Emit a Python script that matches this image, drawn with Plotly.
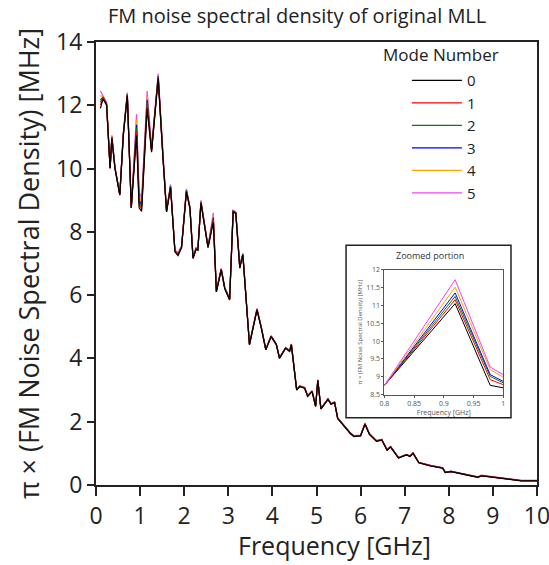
import plotly.graph_objects as go

# ---------------- data ----------------
freq_ghz = [0.10, 0.16, 0.24, 0.32, 0.36, 0.43, 0.54, 0.62, 0.71, 0.80,
            0.919, 0.978, 1.035, 1.16, 1.26, 1.41, 1.52, 1.60, 1.69, 1.79,
            1.86, 1.94, 2.05, 2.13, 2.20, 2.27, 2.31, 2.38, 2.54, 2.66,
            2.73, 2.84, 2.92, 3.03, 3.11, 3.17, 3.26, 3.33, 3.48, 3.65,
            3.75, 3.85, 3.97, 4.09, 4.16, 4.30, 4.39, 4.43, 4.55, 4.62,
            4.73, 4.80, 4.90, 4.98, 5.03, 5.10, 5.18, 5.26, 5.33, 5.41,
            5.48, 5.57, 5.67, 5.77, 5.85, 6.00, 6.10, 6.20, 6.36, 6.48,
            6.60, 6.68, 6.86, 6.96, 7.04, 7.12, 7.19, 7.32, 7.59, 7.86,
            7.92, 8.05, 8.36, 8.66, 8.74, 9.04, 9.34, 9.49, 9.64, 10.0]

mode0_mhz = [11.9, 12.2, 12.0, 10.0, 10.95, 10.0, 9.16, 11.05, 12.3, 8.76,
             11.05, 8.76, 8.65, 11.9, 10.52, 12.85, 10.3, 8.63, 9.4, 7.37,
             7.25, 7.5, 9.26, 8.74, 7.16, 7.45, 7.42, 8.9, 7.5, 8.3,
             6.1, 6.8, 6.2, 5.85, 8.63, 8.58, 6.85, 7.27, 4.43, 5.53,
             4.95, 4.27, 4.69, 4.43, 4.0, 4.32, 4.22, 4.43, 3.0, 3.11,
             3.06, 2.8, 2.95, 2.48, 3.3, 2.4, 2.55, 2.7, 2.55, 2.6,
             2.1, 1.95, 1.8, 1.62, 1.53, 1.55, 1.92, 1.6, 1.38, 1.42,
             1.1, 1.2, 0.85, 0.9, 0.95, 0.9, 1.0, 0.70, 0.6, 0.53,
             0.39, 0.42, 0.34, 0.24, 0.29, 0.23, 0.18, 0.16, 0.13, 0.13]

# gap between the highest (mode 5) and the lowest (mode 0) curve at each point
mode_spread = [0.55, 0.1, 0.1, 0.05, 0.1, 0.05, 0.05, 0.1, 0.1, 0.0,
               0.67, 0.51, 0.4, 0.55, 0.15, 0.15, 0.1, 0.05, 0.1, 0.05,
               0.1, 0.05, 0.1, 0.05, 0.05, 0.05, 0.05, 0.1, 0.05, 0.3,
               0.05, 0.05, 0.05, 0.05, 0.05, 0.05, 0.1, 0.05, 0.03, 0.05,
               0.03, 0.03, 0.03, 0.03, 0.03, 0.03, 0.03, 0.03, 0.03, 0.03,
               0.03, 0.03, 0.03, 0.03, 0.03, 0.03, 0.03, 0.03, 0.03, 0.03,
               0.03, 0.03, 0.03, 0.03, 0.03, 0.03, 0.03, 0.03, 0.03, 0.03,
               0.02, 0.02, 0.02, 0.02, 0.02, 0.02, 0.02, 0.02, 0.02, 0.02,
               0.02, 0.02, 0.02, 0.02, 0.02, 0.02, 0.02, 0.02, 0.02, 0.02]

mode_numbers = ["0", "1", "2", "3", "4", "5"]
mode_share = [0.0, 0.2, 0.36, 0.5, 0.74, 1.0]
mode_colors = ["#000000", "#ff0000", "#008000", "#0000ff", "#ffa500", "#ee44ee"]

# zoomed portion
inset_freq = [0.8, 0.919, 0.978, 1.0]
inset_modes = [
    [8.76, 11.05, 8.76, 8.69],
    [8.76, 11.16, 8.92, 8.78],
    [8.76, 11.25, 9.01, 8.83],
    [8.76, 11.35, 9.06, 8.87],
    [8.76, 11.51, 9.20, 8.99],
    [8.76, 11.72, 9.27, 9.06],
]
main_xticks = list(range(0, 11))
main_yticks = [0, 2, 4, 6, 8, 10, 12, 14]
inset_xticks = [0.8, 0.85, 0.9, 0.95, 1.0]
inset_xticktext = ["0.8", "0.85", "0.9", "0.95", "1"]
inset_yticks = [8.5, 9, 9.5, 10, 10.5, 11, 11.5, 12]
inset_yticktext = ["8.5", "9", "9.5", "10", "10.5", "11", "11.5", "12"]

FONT = "Open Sans"
fig = go.Figure()

# main curves: coloured ones first, black on top; legend ordered 0..5
for k in reversed(range(6)):
    yvals = [b + mode_share[k] * s for b, s in zip(mode0_mhz, mode_spread)]
    fig.add_trace(go.Scatter(
        x=freq_ghz, y=yvals, mode="lines", name=mode_numbers[k],
        line=dict(color=mode_colors[k], width=1.2), legendrank=k,
        xaxis="x", yaxis="y"))

for k in range(6):
    fig.add_trace(go.Scatter(
        x=inset_freq, y=inset_modes[k], mode="lines", showlegend=False,
        line=dict(color=mode_colors[k], width=1), xaxis="x2", yaxis="y2"))

fig.update_layout(
    width=549, height=565,
    margin=dict(l=96, r=12, t=42, b=80),
    paper_bgcolor="white", plot_bgcolor="rgba(0,0,0,0)",
    font=dict(family=FONT, color="#222222"),
    title=dict(text="FM noise spectral density of original MLL",
               x=0.456, xanchor="center", xref="paper",
               y=0.972, yanchor="middle", yref="container",
               font=dict(size=20, color="#222222")),
    xaxis=dict(range=[0, 10], tickvals=main_xticks, showline=True, mirror=True,
               linecolor="#222222", linewidth=2, ticks="outside", ticklen=9,
               tickwidth=2, tickcolor="#222222", showgrid=False, zeroline=False,
               tickfont=dict(size=23), domain=[0, 1], automargin=False,
               ticklabeloverflow="allow"),
    yaxis=dict(range=[0, 14], tickvals=main_yticks, showline=True, mirror=True,
               linecolor="#222222", linewidth=2, ticks="outside", ticklen=7,
               tickwidth=2, tickcolor="#222222", showgrid=False, zeroline=False,
               tickfont=dict(size=23), domain=[0, 1], automargin=False,
               ticklabeloverflow="allow",
               title=dict(text="π × (FM Noise Spectral Density) [MHz]",
                          font=dict(size=27), standoff=9)),
    xaxis2=dict(domain=[0.654, 0.9235], anchor="y2", range=[0.8, 1.0],
                tickvals=inset_xticks, ticktext=inset_xticktext, automargin=False,
                showline=True, mirror=True, linecolor="#555555", linewidth=1,
                ticks="outside", ticklen=2, tickcolor="#555555", showgrid=False,
                zeroline=False, tickfont=dict(size=7, color="#555555"),
                title=dict(text="Frequency [GHz]", font=dict(size=7, color="#555555"),
                           standoff=1)),
    yaxis2=dict(domain=[0.204, 0.486], anchor="x2", range=[8.5, 12],
                tickvals=inset_yticks, ticktext=inset_yticktext, automargin=False,
                showline=True, mirror=True, linecolor="#555555", linewidth=1,
                ticks="outside", ticklen=2, tickcolor="#555555", showgrid=False,
                zeroline=False, tickfont=dict(size=7, color="#555555"),
                title=dict(text="π × (FM Noise Spectral Density) [MHz]",
                           font=dict(size=6, color="#555555"), standoff=3)),
    legend=dict(x=0.705, xanchor="left", y=0.950, yanchor="top",
                bgcolor="rgba(0,0,0,0)", font=dict(size=15, color="#222222"),
                itemwidth=50, tracegroupgap=0),
    shapes=[dict(type="rect", xref="paper", yref="paper",
                 x0=0.567, x1=0.941, y0=0.152, y1=0.541,
                 line=dict(color="#222222", width=1.5), fillcolor="white",
                 layer="below")],
    annotations=[
        dict(text="Frequency [GHz]", xref="paper", yref="paper",
             x=0.541, y=-0.1354, xanchor="center", yanchor="middle",
             showarrow=False, font=dict(size=25, color="#222222")),
        dict(text="Mode Number", xref="paper", yref="paper",
             x=0.783, y=0.972, xanchor="center", yanchor="middle",
             showarrow=False, font=dict(size=17, color="#222222")),
        dict(text="Zoomed portion", xref="paper", yref="paper",
             x=0.757, y=0.518, xanchor="center", yanchor="middle",
             showarrow=False, font=dict(size=9, color="#333333")),
    ],
)

fig.write_html(
    "out.html",
    config={"displayModeBar": False},
    post_script="document.body.style.margin='0';document.body.style.overflow='hidden';",
)
